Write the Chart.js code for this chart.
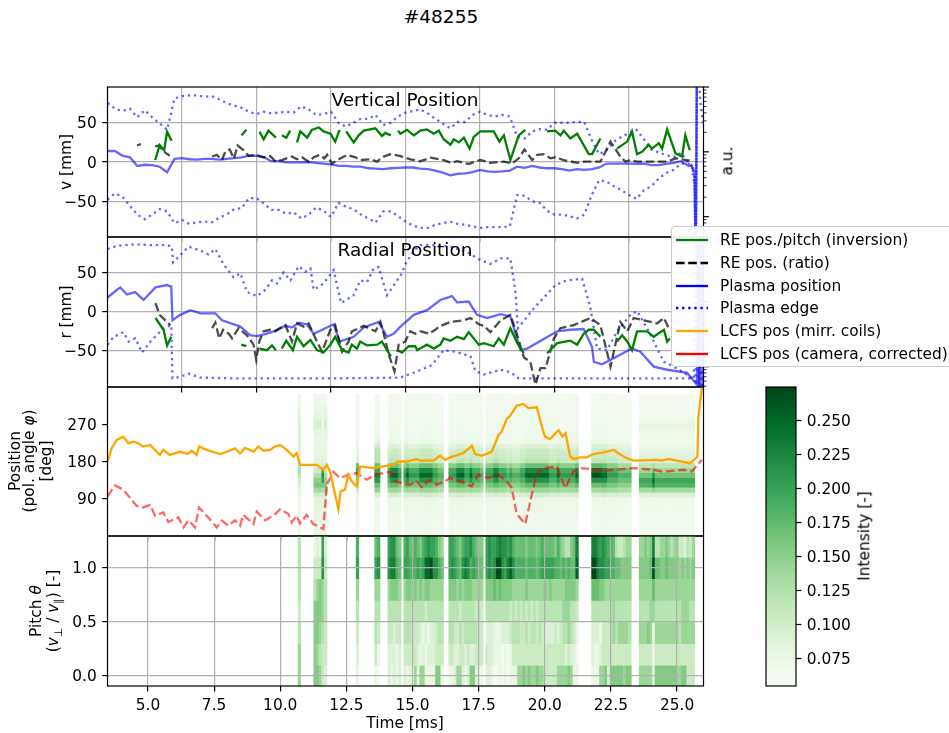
<!DOCTYPE html>
<html>
<head>
<meta charset="utf-8">
<title>#48255</title>
<script src="https://cdn.jsdelivr.net/npm/chart.js@4"></script>
<style>
html, body { margin: 0; background: #fff; }
#page { position: relative; width: 949px; height: 733px; overflow: hidden; font-family: "DejaVu Sans", sans-serif; font-size: 15.4px; color: #000; }
canvas { position: absolute; }
.label { position: absolute; white-space: nowrap; transform: translate(-50%, -50%); line-height: 1; }
.label.rot { transform: translate(-50%, -50%) rotate(-90deg); }
.label.big { font-size: 18.5px; }
#legend { position: absolute; left: 671px; top: 226px; width: 290px; height: 141px; box-sizing: border-box; padding-top: 2px; border: 1.2px solid #ccc; border-radius: 4px; background: rgba(255,255,255,.93); }
#legend div { height: 22.7px; display: flex; align-items: center; white-space: nowrap; }
#legend svg { margin: 0 12px 0 4px; }
sub { font-size: 10.8px; line-height: 0; }
</style>
</head>
<body>
<div id="page"></div>
<script>
// ---- panel 1 + 2 share this time axis (no labels on it in the original)
const topTimes = [5,5.25,5.5,5.75,6,6.25,6.5,6.75,7,7.25,7.5,7.75,8,8.25,8.5,8.75,9,9.25,9.5,9.75,10,10.25,10.5,10.75,11,11.25,11.5,11.75,12,12.25,12.5,12.75,13,13.25,13.5,13.75,14,14.25,14.5,14.75,15,15.25,15.5,15.75,16,16.25,16.5,16.75,17,17.25,17.5,17.75,18,18.25,18.5,18.75,19,19.25,19.5,19.75,20,20.25,20.5,20.75,21,21.25,21.5,21.75,22,22.25,22.5,22.75,23,23.25,23.5,23.75,24,24.25,24.5,24.6,24.7,24.74,24.78,24.9,25];
const topXTicks = [7.5,10,12.5,15,17.5,20,22.5];
const posYTicks = [-50,0,50];
const auTicks = [.5,.6,.7,.8,.9,1,2,3,4,5,6,7,8,9,10,20,30,40,50,60,70,80,90,100];

// vertical position [mm]
const vPlasma = [14,14,8,6,-5,-3.5,-4,-6,-13,4,5,3.5,3,4,4,3,4,5,6,8,8,6,1,1,-.5,-.5,-.5,0,-1,-2,-3,-5,-5,-6,-6,-8,-8.5,-9,-8,-7.5,-7,-7,-8.5,-9,-11,-13.5,-17,-15,-14.5,-13,-10,-12,-12.5,-12,-11,-6,-7.5,-5,-7,-8,-8,-9,-11,-9,-10,-9,-7,-2,-2,-2,-2,-2.5,-2,-4,-4,-2.5,-1,1,-5,-5,-12,-140,140,130,120];
const vEdgeUpper = [75,68,65,68,57,66,57,49,41,81,84,85,85,83,84,80,75,72,69,64,61,64,62,63,64,63,71,67,60,61,64,50,45,50,55,55,60,47,50,58,63,65,67,62,55,49,43,51,51,60,64,60,58,60,58,32,30,39,42,41,50,50,50,51,51,28,10,15,26,32,37,41,29,16,12,9,6,12,-2,-4,-20,-140,140,75,46];
const vEdgeLower = [-48,-40,-44,-56,-67,-73,-67,-60,-63,-78,-74,-79,-77,-76,-77,-71,-67,-60,-59,-46,-46,-53,-61,-61,-66,-64,-72,-67,-58,-62,-70,-52,-57,-60,-67,-72,-77,-63,-63,-69,-76,-81,-84,-84,-80,-78,-76,-79,-80,-82,-84,-83,-83,-83,-82,-42,-43,-50,-52,-62,-67,-67,-69,-72,-67,-42,-23,-25,-31,-36,-42,-47,-36,-31,-21,-14,-10,-2,-2,-4,-30,-140,140,110,100];
const vInvTimes = [6.6,6.75,6.9,7,7.15,7.2,9.5,9.66,9.7,10.1,10.24,10.4,10.65,10.75,10.85,11,11.13,11.25,11.36,11.47,11.7,11.86,12.09,12.25,12.48,12.64,12.79,12.9,13.01,13.26,13.43,13.6,13.99,14.21,14.32,14.51,14.6,14.75,14.83,15.05,15.28,15.5,15.72,15.95,16.12,16.28,16.51,16.62,16.79,16.96,17.15,17.29,17.51,17.96,18.15,18.3,18.52,18.8,19.02,19.4,19.75,20.03,20.2,20.31,20.53,20.76,21.15,21.26,21.54,21.8,22.1,22.44,22.6,22.77,22.94,23.16,23.27,23.5,23.61,23.78,24.06,24.28,24.39,24.54];
const vInv = [2.5,21.6,15,38.6,27,null,34,41,null,38.6,29,40,31,null,34,31,40,null,25,39,31,41,44,39,36,26,41,null,39,25,34,40,43,33,37,34,null,40,36,41,34,40,41.5,36,40,29,22,29,25,31,17,32,39,39,26,34,2.5,34,41,null,39,40,34,40,30,36,10,10,30,null,17,26,39,10,13,22,17,24,17,41.5,11,7,34,15];
const vRatioTimes = [5.99,6.12,6.3,6.6,6.72,6.94,7.09,7.5,8.51,8.67,8.84,8.95,9.1,9.24,9.37,9.57,9.74,9.96,10.24,10.46,10.63,10.85,11.19,11.36,11.53,11.75,11.92,12.12,12.28,12.37,12.53,12.76,13.04,13.32,13.48,13.82,14.05,14.21,14.49,14.83,15.17,15.5,15.84,16.28,16.51,16.73,17.12,17.51,17.85,18.3,18.58,18.8,18.99,19.25,19.42,19.64,19.86,20.03,20.31,20.76,20.98,21.32,21.54,21.88,22.21,22.38,22.55,22.77,23.22,23.78,24.06,24.54];
const vRatio = [21,23,null,20,21,12,8,null,7,9,2.5,13,16,4.5,21,15,7.6,9,6,7.6,1,2.5,7,3.4,6,.4,6,9,4.7,9,-2,3.4,9,6,2.5,3.4,.4,6,10,7.6,3.4,1,5.5,2.5,-1,1,-2.5,2.5,-1,.4,-1.7,4.7,16,2.5,9,10,4.7,6,2.5,-1,.4,.4,.4,26,7,.4,2.5,.4,.4,.4,4.7,1.7];

// radial position [mm]
const rPlasmaTimes = [5,5.32,5.43,5.65,5.93,6.21,6.61,7,7.14,7.18,7.44,7.78,8.12,8.62,8.84,9.46,9.79,10.02,10.35,10.58,10.97,11.19,11.42,11.69,11.92,12.59,12.79,13.26,13.6,14.1,14.38,14.6,14.83,15.28,15.72,16.17,16.56,16.73,17.12,17.4,17.74,18.19,18.52,18.86,19.08,20.09,20.53,20.98,21.26,21.32,21.6,22.6,22.88,23.33,23.78,24.45,24.78,24.82,24.87,24.92,24.97];
const rPlasma = [18,28,31,22,25,15,31,34,32,-11,-4,2,-2,-2,-11,-19,-30,-31,-28,-25,-18,-20,-14,-16,-28,-16,-38,-32,-20,-13,-32,-28,-19,-4,2,15,20,12,13,-4,-8,-3,-6,-49,-47,-25,-23,-22,-45,-64,-67,-47,-51,-70,-74,-78,-93,120,-120,120,-120];
const rUpperTimes = [5,5.32,5.88,6.44,7,7.16,7.2,7.44,7.72,8.12,8.39,8.62,8.9,9.23,9.46,9.68,10.02,10.3,10.52,10.69,10.91,11.14,11.42,11.64,11.81,11.92,12.25,12.59,12.84,13.26,13.48,13.71,13.93,14.1,14.38,14.88,15,15.28,15.5,15.95,16.51,17.07,17.51,17.85,18.19,18.52,18.69,18.77,19.3,20.03,20.42,20.93,21.2,21.43,21.76,22.1,22.55,22.77,23.16,23.67,24,24.56,24.73,24.8,24.86,24.92];
const rEdgeUpper = [80,84,86,85,85,83,63,72,83,78,73,80,60,44,49,25,20,28,40,36,50,40,58,51,55,28,36,53,11,21,40,38,55,57,21,49,61,78,85,85,83,76,66,61,68,68,25,-21,4,34,40,42,6,-47,-49,-25,-4,1,-25,-64,-70,-83,-89,120,-120,120];
const rLowerTimes = [5,5.21,5.54,5.71,5.93,6.16,6.44,6.88,7.14,7.18,7.44,7.72,8.12,9.23,10.35,12.59,14.83,15.39,15.89,16.28,16.68,17.18,17.35,17.63,18.19,18.52,18.8,19.3,24.67,24.76,24.84,24.9,24.95];
const rEdgeLower = [-42,-32,-26,-38,-34,-52,-38,-21,-17,-85,-83,-79,-84,-85,-85,-85,-84,-76,-68,-49,-51,-57,-76,-80,-74,-77,-85,-85,-85,120,-120,120,-120];
const rInvTimes = [6.61,6.88,7,7.14,7.2,9.49,9.66,9.8,10.1,10.35,10.52,10.65,10.75,10.85,11,11.22,11.36,11.58,11.81,12.03,12.25,12.48,12.64,12.87,13.09,13.2,13.37,13.48,13.71,14.05,14.21,14.38,14.51,14.6,14.75,14.88,15.11,15.33,15.39,15.72,15.95,16.17,16.28,16.51,16.73,16.96,17.12,17.46,17.63,17.96,18.13,18.3,18.52,18.75,18.97,19.4,19.75,20.09,20.53,20.76,20.98,21.15,21.32,21.54,21.8,22.1,22.27,22.44,22.6,22.77,23.11,23.33,23.67,23.78,23.87];
const rInv = [-8,-23,-43,-32,null,-42,-44,null,-47,-49,-43,-49,null,-47,-37,-49,-32,-44,-36,-49,-52,-42,-32,-49,-52,-42,-47,-38,-43,-42,-38,-49,-57,null,-49,-52,-44,-44,-49,-42,-47,-42,-34,-37,-32,-35,-26,-42,-40,-44,-34,-42,-21,-40,-53,null,-53,-40,-37,-42,-28,-23,-23,-32,null,-38,-30,-38,-49,-25,-25,-32,-23,-38,-34];
const rRatioTimes = [6.61,6.75,6.94,7.11,7.5,8.51,8.62,8.75,8.88,9.07,9.18,9.4,9.68,9.9,9.99,10.1,10.24,10.46,10.63,10.97,11.19,11.36,11.58,11.75,12.03,12.2,12.48,12.64,12.87,13.09,13.2,13.43,13.6,13.99,14.16,14.27,14.44,14.63,14.77,14.99,15.16,15.33,15.5,15.78,16,16.12,16.51,16.96,17.18,17.46,17.63,17.85,18.19,18.52,18.75,18.97,19.19,19.36,19.53,19.7,19.98,20.2,20.65,21.21,21.54,21.88,22.21,22.44,22.66,23,23.44,23.67,23.83];
const rRatio = [11,-4,-11,-17,null,-21,-14,-34,-23,-28,-34,-21,-30,-42,-61,-37,-25,-23,-25,-17,-38,-15,-19,-15,-38,-51,-23,-17,-51,-38,-25,-21,-18,-25,-13,-28,-55,-76,-42,-38,-25,-28,-25,-28,-23,-19,-13,-11,-8,-16,-18,-26,-11,-4,-30,-58,-64,-93,-72,-72,-34,-21,-17,-8,-17,-70,-13,-25,-8,-11,-15,-8,-21];

// poloidal angle [deg]
const mirrTimes = [3.47,3.63,3.82,4.07,4.26,4.45,4.64,4.82,5.08,5.45,5.58,5.83,6.21,6.49,6.65,6.84,6.93,7.22,7.72,8.04,8.29,8.48,8.67,8.99,9.17,9.36,9.61,9.8,10,10.24,10.5,10.62,10.75,11,11.38,11.63,11.76,11.88,12.2,12.28,12.45,12.57,12.7,12.89,13.02,13.52,13.9,14.28,14.47,14.78,15.16,15.28,15.79,16.04,16.23,16.42,16.92,17.24,17.37,17.62,18,18.25,18.37,18.56,18.69,18.94,19.19,19.38,19.7,19.89,20.01,20.2,20.52,20.67,20.79,20.96,21.08,21.34,21.59,21.84,22.22,22.6,22.78,23.1,23.35,24.23,24.42,24.68,24.99,25.49,25.68,25.77,25.81,25.94,26];
const lcfsMirr = [180,212,232,240,224,228,224,216,220,196,208,196,204,198,206,196,216,208,198,205,212,200,213,204,216,206,208,216,220,208,192,200,172,172,172,160,172,156,65,108,112,148,132,120,168,164,168,172,180,180,186,182,182,194,184,190,200,218,198,194,204,244,252,283,290,315,319,309,311,264,240,234,256,240,248,192,186,190,190,198,202,208,200,188,182,184,182,186,182,176,186,192,291,359,387];
const camTimes = [3.47,3.75,4.07,4.32,4.57,4.82,5.08,5.27,5.58,5.77,6.15,6.34,6.53,6.78,6.93,7.22,7.6,7.79,8.04,8.29,8.48,8.6,8.99,9.11,9.43,9.74,10,10.31,10.43,10.62,10.75,11,11.25,11.63,11.76,12.01,12.26,12.57,12.89,13.27,13.59,14.15,14.34,14.59,14.9,15.16,15.35,15.66,15.92,16.23,16.42,16.8,17.24,17.49,17.87,18.25,18.56,18.75,18.94,19.26,19.51,19.7,19.95,20.45,20.77,21.08,21.4,22.34,23.35,24.11,24.49,25.24,25.56,25.94];
const lcfsCam = [96,122,112,92,73,69,75,49,57,34,45,21,38,21,69,49,21,37,25,38,25,51,29,59,38,49,65,53,33,49,30,51,29,17,124,155,140,148,152,136,148,155,132,128,124,132,118,136,124,132,140,132,120,148,140,148,132,116,53,29,100,152,164,168,116,156,164,158,164,160,155,160,156,184];

// intensity cells: columns are 0.1 ms wide, [first time, count] of each block that has data
const cellRuns = [[10.72,1],[11.32,5],[12.92,1],[13.62,2],[14.12,5],[14.72,3],[15.02,12],[16.42,13],[17.82,35],[21.82,15],[23.62,21]];

// pitch map: one string per row, one level character per column
const pitchCenters = [1.2,1,.8,.6,.4,.2,0];
const pitchLevels = {'0':.06,'1':.075,'2':.09,'3':.105,'4':.12,'5':.14,'6':.155,'7':.17,'8':.185,'9':.2,'a':.215,'b':.23,'c':.25,'d':.27};
const pitchRows = [
  '4 12192 8 78 9aa76 897 787689a99865 99876899a8766 9a99 aba a9a 877 77677 76787 77768 6544 6 7 b bba9a9887433455 55656b445565455332435',
  '4 333a3 9 9a abb87 998 8898 9ccd aa87 9a987aba89877 9a9a dda 9bc a88 88788 87899 99988 7878 7 7 c ddbaa9988776666 66667d776676666565656',
  '4 45654 5 55 56665 566 565656655555 6665656665555 66676 76666 55555 65555 55656 55555 66665 777665555555555 555557555555555555555',
  '3 66654 4 44 44444 444 444443444444 4444344444343 44444 44443 43434 34343 44444 44445 55443 444444445444444 44445 5 4444444444 55544',
  '4 66543 3 43 33233 444 333212122344 4433434444433 2221 112 223 444 33434 43432 22232 3445 4 3 1 222133345455554 55565 1 555555555455555',
  '5 65433 2 31 22212 333 332121222333 3322332322333 3221 110 101 333 33333 33333 33333 3323 2 2 0 211233333333333 33333 1 333333333333333',
  '5 66532 1 10 21212 212 151551111661 1125521266211 2210 010 101 115 56565 56553 33335 5556 5 1 1 111556266666566 55555 1 666666665566333'
];

// position map: 29 rows from the top, each column uses one of these hand read profiles
const posRowTop = 342;
const posRowStep = 11.8;
const posProfiles = {
  a: [.06,.06,.06,.062,.062,.062,.064,.064,.066,.068,.085,.098,.102,.108,.15,.19,.205,.185,.16,.135,.095,.072,.07,.068,.067,.066,.065,.065,.065],
  b: [.062,.062,.062,.064,.064,.066,.066,.068,.07,.072,.09,.105,.11,.118,.17,.225,.25,.215,.175,.14,.1,.074,.072,.07,.068,.068,.066,.066,.066],
  c: [.058,.058,.058,.06,.06,.06,.062,.062,.064,.066,.08,.09,.095,.1,.135,.165,.185,.17,.15,.125,.09,.068,.066,.065,.064,.063,.062,.062,.062],
  d: [.058,.06,.06,.062,.066,.072,.08,.072,.066,.066,.072,.08,.085,.09,.115,.14,.165,.195,.185,.135,.09,.068,.066,.066,.065,.064,.064,.062,.062],
  e: [.06,.06,.062,.062,.064,.066,.066,.068,.07,.072,.09,.1,.105,.115,.175,.24,.265,.215,.17,.135,.095,.07,.068,.066,.066,.065,.064,.064,.064],
  f: [.058,.06,.06,.062,.066,.072,.08,.072,.066,.066,.072,.08,.085,.09,.13,.17,.21,.24,.22,.15,.095,.068,.066,.066,.065,.064,.064,.062,.062],
  g: [.07,.07,.075,.08,.085,.085,.09,.09,.09,.09,.09,.09,.09,.09,.12,.13,.12,.1,.09,.08,.075,.07,.07,.07,.068,.068,.066,.066,.066],
  h: [.065,.07,.075,.08,.085,.095,.095,.085,.08,.075,.075,.08,.08,.085,.09,.105,.125,.15,.16,.135,.1,.085,.085,.08,.08,.078,.075,.075,.075],
  i: [.065,.065,.07,.07,.07,.07,.07,.07,.07,.07,.07,.075,.08,.09,.1,.2,.22,.2,.16,.13,.095,.08,.08,.078,.075,.075,.072,.072,.072],
  j: [.065,.065,.065,.065,.065,.065,.065,.065,.065,.068,.075,.08,.085,.09,.17,.19,.18,.15,.125,.1,.08,.07,.068,.068,.066,.066,.065,.065,.065],
  k: [.062,.062,.062,.064,.064,.064,.066,.066,.07,.08,.1,.12,.12,.12,.17,.2,.23,.21,.17,.14,.095,.07,.07,.068,.068,.066,.066,.065,.065]
};
const posColumns = 'g hhhih j kk abbba aba aaabbbbbaacc aaabbbaabaaac aaabbaaaca cccaabbb bbbbbbaaab aaaaaab eeeebbaaaaccccc ddddd f ddddddddddddddd';

// tick labels
const timeTicks = [5,7.5,10,12.5,15,17.5,20,22.5,25];
const angleTicks = [90,180,270];
const pitchTicks = [0,.5,1];
const intensityTicks = [.075,.1,.125,.15,.175,.2,.225,.25];
const intensityRange = [.0544,.2745];
const greensStops = ['#f7fcf5','#e5f5e0','#c7e9c0','#a1d99b','#74c476','#41ab5d','#238b45','#006d2c','#00441b'];

const legendLabels = ['RE pos./pitch (inversion)','RE pos. (ratio)','Plasma position','Plasma edge','LCFS pos (mirr. coils)','LCFS pos (camera, corrected)'];

const GREEN = '#008000', BLACK = 'rgba(0,0,0,.7)', BLUE = 'rgba(0,0,255,.6)', ORANGE = '#ffa500', RED = 'rgba(255,0,0,.6)';
const LINE_W = 2.31, DASH = [8.55, 3.7], DOT = [2.31, 3.8];
const LEFT = 107.5, CANVAS_W = 780, RIGHT_GAP = 76.5;
const TICK = 5.4, TICK_W = 1.2, GRID = '#b0b0b0';

Chart.defaults.font.family = '"DejaVu Sans"';
Chart.defaults.font.size = 15.4;
Chart.defaults.color = '#000';
Chart.defaults.animation = false;

const page = document.getElementById('page');

function addCanvas(left, top, w, h) {
  const c = document.createElement('canvas');
  c.width = w; c.height = h;
  c.style.left = left + 'px'; c.style.top = top + 'px';
  c.style.width = w + 'px'; c.style.height = h + 'px';
  page.appendChild(c);
  return c;
}

function addLabel(html, x, y, cls) {
  const d = document.createElement('div');
  d.className = 'label ' + (cls || '');
  d.innerHTML = html;
  d.style.left = x + 'px'; d.style.top = y + 'px';
  page.appendChild(d);
}

function greens(v) {
  const p = Math.min(.9999, Math.max(0, (v - intensityRange[0]) / (intensityRange[1] - intensityRange[0]))) * (greensStops.length - 1);
  const i = Math.floor(p), f = p - i;
  const rgb = s => [1, 3, 5].map(n => parseInt(s.substr(n, 2), 16));
  const a = rgb(greensStops[i]), b = rgb(greensStops[i + 1]);
  return 'rgb(' + a.map((c, n) => Math.round(c + (b[n] - c) * f)).join(',') + ')';
}

const line = (times, values, color, dash) => ({
  type: 'line', order: 0,
  data: times.map((x, i) => ({x: x, y: values[i]})),
  borderColor: color, borderWidth: LINE_W, borderDash: dash || [],
  pointRadius: 0, tension: 0, spanGaps: false
});

const cellTimes = [];
cellRuns.forEach(run => {
  for (let i = 0; i < run[1]; i++) cellTimes.push(+(run[0] + i * .1).toFixed(2));
});

const cellRow = (lo, hi, colors) => ({
  type: 'bar', order: 5, grouped: false,
  data: cellTimes.map(t => ({x: t, y: [lo, hi]})),
  backgroundColor: colors, borderWidth: 0,
  barPercentage: 1, categoryPercentage: 1
});

const framePlugin = {
  id: 'frame',
  afterDraw(chart) {
    const a = chart.chartArea, c = chart.ctx;
    c.save();
    c.strokeStyle = '#000'; c.lineWidth = TICK_W;
    c.strokeRect(a.left, a.top, a.width, a.height);
    const au = chart.scales.au;
    if (au) {
      au.ticks.forEach(t => {
        const y = au.getPixelForValue(t.value);
        const big = Number.isInteger(Math.log10(t.value));
        c.lineWidth = big ? TICK_W : .8;
        c.beginPath(); c.moveTo(a.right, y); c.lineTo(a.right + (big ? TICK : 3), y); c.stroke();
      });
    }
    c.restore();
  }
};

function fixedTicks(list) {
  return s => { s.ticks = list.map(v => ({value: v})); };
}

const tickText = v => String(v).replace('-', '\u2212');

// layout adds a little padding of its own, so nudge until the plot box sits where it should
function pinArea(chart, top, bottom, box) {
  for (let n = 0; n < 3; n++) {
    const a = chart.chartArea;
    box.top += top - a.top;
    box.below += a.bottom - bottom;
    chart.config.options.layout.padding.top = box.top;
    chart.update();
  }
}

function makePanel(top, height, cfg) {
  const box = {top: 20, below: 30};
  const canvasH = height + 60;
  const gridZ = cfg.gridOver ? 1 : -1;
  const scales = {
    x: {
      type: 'linear', min: cfg.xMin, max: cfg.xMax, offset: false,
      afterBuildTicks: fixedTicks(cfg.xTicks),
      afterFit: s => { s.height = box.below; },
      border: {display: false},
      grid: {offset: false, color: GRID, lineWidth: TICK_W, tickColor: '#000', tickWidth: TICK_W, tickLength: TICK, drawOnChartArea: !!cfg.grid, z: gridZ},
      ticks: {display: !!cfg.xLabels, padding: 5.4, maxRotation: 0, minRotation: 0, autoSkip: false, callback: v => v.toFixed(1)}
    },
    y: {
      type: 'linear', position: 'left', min: cfg.yMin, max: cfg.yMax,
      afterBuildTicks: fixedTicks(cfg.yTicks),
      afterFit: s => { s.width = LEFT; },
      border: {display: false},
      grid: {color: GRID, lineWidth: TICK_W, tickColor: '#000', tickWidth: TICK_W, tickLength: TICK, drawOnChartArea: !!cfg.grid, z: gridZ},
      ticks: {padding: 5.4, labelOffset: 1.5, autoSkip: false, callback: cfg.yFormat || tickText}
    }
  };
  if (cfg.au) {
    scales.au = {
      type: 'logarithmic', position: 'right', min: .486, max: 100,
      afterBuildTicks: fixedTicks(auTicks),
      afterFit: s => { s.width = RIGHT_GAP; },
      border: {display: false},
      grid: {drawOnChartArea: false, drawTicks: false},
      ticks: {autoSkip: false, callback: () => ''}
    };
  }
  const chart = new Chart(addCanvas(0, top - 20, CANVAS_W, canvasH), {
    type: cfg.bars ? 'bar' : 'line',
    data: {datasets: cfg.datasets},
    options: {
      responsive: false,
      layout: {autoPadding: false, padding: {top: box.top, right: cfg.au ? 0 : RIGHT_GAP, left: 0, bottom: 0}},
      plugins: {legend: {display: false}, tooltip: {enabled: false}},
      scales: scales
    },
    plugins: [framePlugin]
  });
  pinArea(chart, 20, 20 + height, box);
  return chart;
}

// panel 1
makePanel(87, 150, {
  xMin: 5, xMax: 25, xTicks: topXTicks, yMin: -95.6, yMax: 95.6, yTicks: posYTicks, grid: true, au: true,
  datasets: [
    line(vInvTimes, vInv, GREEN),
    line(vRatioTimes, vRatio, BLACK, DASH),
    line(topTimes, vPlasma, BLUE),
    line(topTimes, vEdgeUpper, BLUE, DOT),
    line(topTimes, vEdgeLower, BLUE, DOT)
  ]
});

// panel 2
makePanel(237, 150, {
  xMin: 5, xMax: 25, xTicks: topXTicks, yMin: -96, yMax: 95.3, yTicks: posYTicks, grid: true, au: true,
  datasets: [
    line(rInvTimes, rInv, GREEN),
    line(rRatioTimes, rRatio, BLACK, DASH),
    line(rPlasmaTimes, rPlasma, BLUE),
    line(rUpperTimes, rEdgeUpper, BLUE, DOT),
    line(rLowerTimes, rEdgeLower, BLUE, DOT)
  ]
});

// panel 3
const posColChars = posColumns.replace(/ /g, '');
const posCells = posProfiles.a.map((_, j) => cellRow(
  posRowTop - posRowStep * (j + 1), posRowTop - posRowStep * j,
  [...posColChars].map(ch => greens(posProfiles[ch][j]))
));
makePanel(387, 149, {
  xMin: 3.47, xMax: 26, xTicks: timeTicks, yMin: 0, yMax: 360, yTicks: angleTicks, bars: true,
  datasets: [line(mirrTimes, lcfsMirr, ORANGE), line(camTimes, lcfsCam, RED, DASH)].concat(posCells)
});

// panel 4
const pitchCells = pitchRows.map((row, r) => cellRow(
  pitchCenters[r] - .1, pitchCenters[r] + .1,
  [...row.replace(/ /g, '')].map(ch => greens(pitchLevels[ch]))
));
makePanel(536, 150, {
  xMin: 3.47, xMax: 26, xTicks: timeTicks, xLabels: true, yMin: -.093, yMax: 1.296, yTicks: pitchTicks,
  yFormat: v => v.toFixed(1), bars: true, grid: true, gridOver: true,
  datasets: pitchCells
});

// colour bar
const barBox = {top: 20, below: 20};
const colorBar = new Chart(addCanvas(700, 367, 200, 339), {
  type: 'bar',
  data: {
    labels: ['Intensity'],
    datasets: [{
      data: [intensityRange],
      borderWidth: 0, barPercentage: 1, categoryPercentage: 1,
      backgroundColor: ctx => {
        const a = ctx.chart.chartArea;
        if (!a) return greensStops[0];
        const g = ctx.chart.ctx.createLinearGradient(0, a.bottom, 0, a.top);
        greensStops.forEach((s, i) => g.addColorStop(i / (greensStops.length - 1), s));
        return g;
      }
    }]
  },
  options: {
    responsive: false,
    layout: {autoPadding: false, padding: {top: barBox.top, bottom: 0, left: 66, right: 0}},
    plugins: {legend: {display: false}, tooltip: {enabled: false}},
    scales: {
      x: {display: true, ticks: {display: false}, grid: {display: false, drawTicks: false}, border: {display: false}, afterFit: s => { s.height = barBox.below; }},
      y: {
        position: 'right', min: intensityRange[0], max: intensityRange[1],
        afterBuildTicks: fixedTicks(intensityTicks),
        afterFit: s => { s.width = 104; },
        border: {display: false},
        grid: {drawOnChartArea: false, tickColor: '#000', tickWidth: TICK_W, tickLength: TICK},
        ticks: {padding: 5.4, labelOffset: 1.5, autoSkip: false, callback: v => v.toFixed(3)}
      }
    }
  },
  plugins: [framePlugin]
});
pinArea(colorBar, 20, 319, barBox);

// text
addLabel('#48255', 441, 17, 'big');
addLabel('Vertical Position', 405, 100, 'big');
addLabel('Radial Position', 405, 250, 'big');
addLabel('v [mm]', 67, 162, 'rot');
addLabel('r [mm]', 67, 312, 'rot');
addLabel('a.u.', 728, 161, 'rot');
addLabel('Position', 16, 461, 'rot');
addLabel('(pol. angle <i>\u03c6</i>)', 30, 461, 'rot');
addLabel('[deg]', 47, 461, 'rot');
addLabel('Pitch <i>\u03b8</i>', 37, 611, 'rot');
addLabel('(<i>v</i><sub>\u22a5</sub> / <i>v</i><sub>\u2225</sub>) [-]', 54, 611, 'rot');
addLabel('Time [ms]', 405, 724);
addLabel('Intensity [-]', 865, 536, 'rot');

// legend
const legendStyles = [
  ['#008000', ''], ['#000', '8.55 3.7'], ['#0000ff', ''], ['#0000ff', '2.31 3.8'], ['#ffa500', ''], ['#ff0000', '']
];
const legend = document.createElement('div');
legend.id = 'legend';
legendLabels.forEach((text, i) => {
  const row = document.createElement('div');
  row.innerHTML = '<svg width="32" height="6"><line x1="0" y1="3" x2="32" y2="3" stroke="' + legendStyles[i][0] +
    '" stroke-width="2.31" stroke-dasharray="' + legendStyles[i][1] + '"/></svg><span>' + text + '</span>';
  legend.appendChild(row);
});
page.appendChild(legend);
</script>
</body>
</html>
